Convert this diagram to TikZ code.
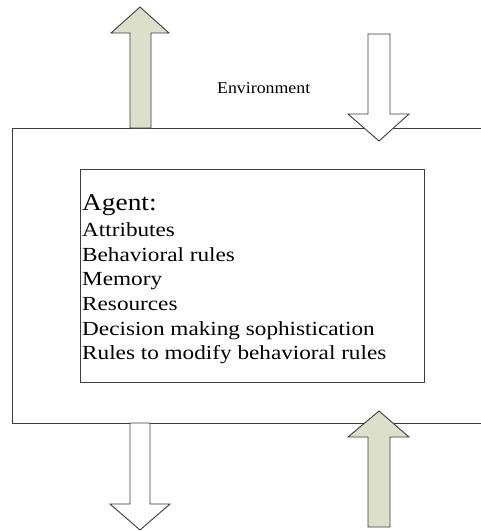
\documentclass[tikz,border=0pt]{standalone}
\usepackage{fontspec}
\setmainfont{Liberation Serif}
\definecolor{sage}{RGB}{220,224,203}
\definecolor{edge}{RGB}{60,60,60}
\tikzset{
  frameline/.style={draw=edge, line width=0.9pt},
  greenarrow/.style={draw=edge, fill=sage, line width=0.9pt, line join=miter},
  whitearrow/.style={draw=edge, fill=white, line width=0.9pt, line join=miter},
  itemtext/.style={anchor=base west, inner sep=0pt, font=\fontsize{20}{24}\selectfont},
}
\newcommand{\wide}[1]{\scalebox{1.16}[1]{#1}}
\begin{document}
\begin{tikzpicture}[x=1pt,y=-1pt]
\useasboundingbox (0,0) rectangle (481,531);
% outer frame (open on the right)
\draw[frameline] (481,128) -- (12,128) -- (12,423) -- (481,423);
% inner agent box
\node[draw=edge, line width=0.9pt, fill=white, minimum width=344pt, minimum height=213pt, inner sep=0pt, anchor=north west] (box) at (80,169) {};
% arrows
\filldraw[greenarrow] (140,7) -- (169,33) -- (151,33) -- (151,128) -- (130,128) -- (130,33) -- (111,33) -- cycle;
\filldraw[whitearrow] (379,141) -- (409,114) -- (390,114) -- (390,34) -- (368,34) -- (368,114) -- (348,114) -- cycle;
\filldraw[whitearrow] (140,530) -- (170,504) -- (150,504) -- (150,423) -- (130,423) -- (130,504) -- (110,504) -- cycle;
\filldraw[greenarrow] (379,411) -- (409,437) -- (390,437) -- (390,527) -- (368,527) -- (368,437) -- (348,437) -- cycle;
% labels
\node[anchor=base west, inner sep=0pt, font=\fontsize{16.5}{20}\selectfont] (env) at (217,93) {\scalebox{1.08}[1]{Environment}};
\node[anchor=base west, inner sep=0pt, font=\fontsize{24}{28}\selectfont] (agent) at (82,210) {\scalebox{1.14}[1]{Agent:}};
\node[itemtext] (l1) at (82,236) {\wide{Attributes}};
\node[itemtext] (l2) at (82,261) {\wide{Behavioral rules}};
\node[itemtext] (l3) at (82,285) {\wide{Memory}};
\node[itemtext] (l4) at (82,310) {\wide{Resources}};
\node[itemtext] (l5) at (82,335) {\wide{Decision making sophistication}};
\node[itemtext] (l6) at (82,359) {\wide{Rules to modify behavioral rules}};
\end{tikzpicture}
\end{document}
